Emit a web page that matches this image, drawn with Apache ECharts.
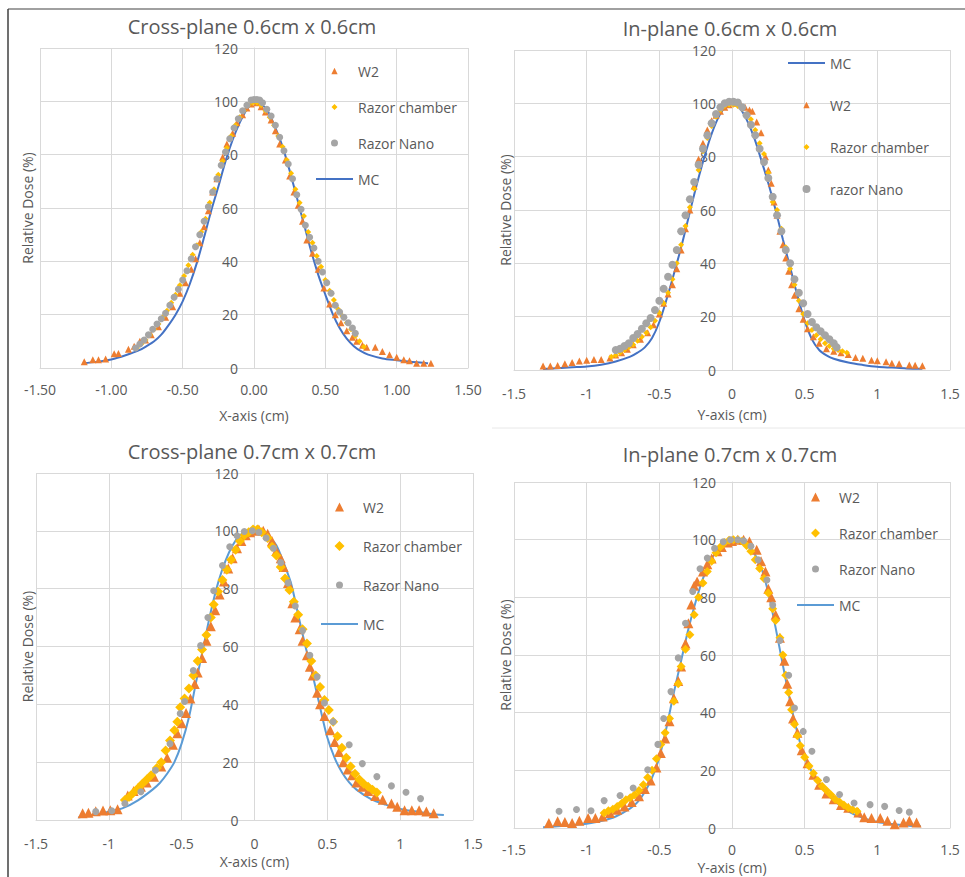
<!DOCTYPE html>
<html><head><meta charset="utf-8">
<script src="https://cdn.jsdelivr.net/npm/echarts@6/dist/echarts.min.js"></script>
<style>html,body{margin:0;padding:0;background:#fff;}#c{width:965px;height:877px;}</style>
</head><body><div id="c"></div>
<script>
// ---------- DATA (x in cm, relative dose in %) ----------
// Panel 1: Cross-plane 0.6cm x 0.6cm
const p1_mc = [[-1.2,1.8],[-1.1,2.3],[-1.0,3.2],[-0.9,4.8],[-0.8,6.8],[-0.75,8.3],[-0.7,10],[-0.65,12.5],[-0.6,16],[-0.55,20],[-0.5,25],[-0.45,31.5],[-0.4,39.5],[-0.35,49],[-0.3,59],[-0.25,68],[-0.2,77.5],[-0.15,85.5],[-0.1,92],[-0.05,97],[0,99.5],[0.05,99],[0.1,96],[0.15,90],[0.2,83],[0.25,74],[0.3,64],[0.35,54],[0.4,44],[0.45,35],[0.5,27.5],[0.55,20.5],[0.6,15],[0.65,11],[0.7,8.2],[0.75,6.3],[0.8,5],[0.9,3.6],[1.0,2.9],[1.1,2.3],[1.2,1.9],[1.22,1.8]];
const p1_w2 = [[-1.19,2.3],[-1.13,3.1],[-1.09,3.1],[-1.04,3.4],[-0.98,5.3],[-0.95,5.4],[-0.88,7],[-0.84,8.2],[-0.8,10],[-0.76,10.5],[-0.72,12.5],[-0.67,15.5],[-0.62,19],[-0.57,23],[-0.52,28],[-0.48,32],[-0.44,37],[-0.41,41],[-0.38,47],[-0.35,53],[-0.32,59],[-0.29,66],[-0.26,71],[-0.22,79],[-0.19,84],[-0.15,88],[-0.12,92],[-0.08,95],[-0.05,97.5],[-0.02,99],[0.02,99.5],[0.05,98],[0.08,96],[0.12,93],[0.15,89],[0.18,84],[0.22,78],[0.25,72],[0.28,66],[0.31,61],[0.34,55],[0.37,48],[0.41,43],[0.45,37],[0.49,30],[0.53,24],[0.57,20],[0.61,17],[0.65,14],[0.69,11.5],[0.72,10],[0.76,8.5],[0.79,7.8],[0.85,7.8],[0.9,6.2],[0.95,5],[1.0,4],[1.05,3.1],[1.09,2.7],[1.14,1.8],[1.19,1.8],[1.24,1.8]];
const p1_chamber = [[-0.82,7.5],[-0.79,9],[-0.76,10.5],[-0.73,12.5],[-0.7,14.5],[-0.67,16.5],[-0.64,19],[-0.61,21.5],[-0.58,24.5],[-0.55,27.5],[-0.52,31],[-0.49,34.5],[-0.46,38.5],[-0.43,42.5],[-0.4,46],[-0.37,51],[-0.34,56],[-0.31,62],[-0.28,67],[-0.25,72.5],[-0.22,77.5],[-0.19,82.5],[-0.16,87],[-0.13,91],[-0.1,94],[-0.07,96.5],[-0.04,98.5],[-0.01,99.5],[0.02,99.5],[0.05,98.5],[0.08,96.5],[0.11,94],[0.14,91],[0.17,87],[0.2,83],[0.23,78],[0.26,73],[0.29,67],[0.32,62],[0.35,57],[0.38,51],[0.41,47],[0.44,42],[0.47,38],[0.5,33],[0.53,29],[0.56,25.5],[0.59,22],[0.62,19.5],[0.65,17],[0.68,14.5],[0.71,12],[0.74,10],[0.77,8]];
const p1_nano = [[-0.83,7.5],[-0.8,9],[-0.77,10.5],[-0.74,12.5],[-0.71,14.5],[-0.68,16.5],[-0.65,18.5],[-0.62,20.5],[-0.59,23.5],[-0.56,26.5],[-0.53,29.5],[-0.5,33],[-0.47,36.5],[-0.44,41],[-0.41,45.5],[-0.38,50],[-0.35,55],[-0.32,60.5],[-0.29,66],[-0.26,71],[-0.23,76],[-0.2,81],[-0.17,86],[-0.14,90],[-0.11,93.5],[-0.08,96.5],[-0.05,98.5],[-0.02,100.5],[0.0,100.7],[0.02,100.7],[0.04,100.5],[0.06,99.5],[0.09,97],[0.12,94.5],[0.15,91],[0.18,86.5],[0.21,81.5],[0.24,76.5],[0.27,71],[0.3,65],[0.33,59.5],[0.36,53.5],[0.39,49],[0.42,45],[0.45,40],[0.48,36],[0.51,32],[0.54,28],[0.57,23.5],[0.6,21],[0.63,19],[0.66,17],[0.69,15],[0.71,13]];

// Panel 2: In-plane 0.6cm x 0.6cm
const p2_mc = [[-1.3,0.4],[-1.2,0.7],[-1.1,1.0],[-1.0,1.3],[-0.9,2.0],[-0.8,3.2],[-0.7,5.0],[-0.65,6.5],[-0.6,8.5],[-0.55,12],[-0.5,18],[-0.45,26.5],[-0.4,36],[-0.35,46],[-0.3,57],[-0.25,68],[-0.2,78],[-0.15,87],[-0.1,94],[-0.05,98.5],[0,100],[0.05,98.5],[0.1,94],[0.15,87.5],[0.2,79],[0.25,70],[0.3,60],[0.35,49],[0.4,38.5],[0.45,28],[0.5,18.5],[0.55,11.5],[0.6,7.5],[0.65,5.5],[0.7,4.2],[0.8,2.8],[0.9,1.9],[1.0,1.2],[1.1,0.9],[1.2,0.6],[1.31,0.5]];
const p2_w2 = [[-1.3,1.5],[-1.25,1.5],[-1.2,1.7],[-1.15,2.3],[-1.1,2.8],[-1.05,3.4],[-1.0,3.7],[-0.95,3.9],[-0.9,3.9],[-0.84,4.5],[-0.8,5.6],[-0.76,6.5],[-0.72,7.8],[-0.68,9.5],[-0.63,11.5],[-0.58,14],[-0.54,17],[-0.5,21],[-0.47,25],[-0.44,28.5],[-0.41,32],[-0.38,38],[-0.35,45],[-0.32,53],[-0.29,60],[-0.26,69],[-0.23,79],[-0.2,85],[-0.17,90],[-0.14,93.5],[-0.11,95.5],[-0.08,97],[-0.05,98.5],[-0.02,99.5],[0.03,100],[0.06,99.5],[0.09,98.5],[0.12,97.5],[0.14,97],[0.17,93],[0.2,89],[0.23,80],[0.25,75],[0.27,70],[0.29,63],[0.31,58],[0.33,52],[0.35,47],[0.37,42],[0.39,37],[0.41,32],[0.43,28],[0.46,23],[0.49,19],[0.52,15.5],[0.56,12.5],[0.6,10],[0.65,8],[0.7,7],[0.75,6.5],[0.8,5.8],[0.85,4.7],[0.9,4.4],[0.96,3.7],[1.0,3.5],[1.06,3.1],[1.1,2.5],[1.15,2.3],[1.22,1.9],[1.26,1.8],[1.31,1.6]];
const p2_chamber = [[-0.83,5],[-0.8,5.5],[-0.77,6.5],[-0.74,7.5],[-0.71,8.5],[-0.68,9.5],[-0.65,11],[-0.62,12.5],[-0.59,14],[-0.56,16],[-0.53,18.5],[-0.5,21.5],[-0.47,25],[-0.44,29],[-0.41,34],[-0.38,40],[-0.35,47],[-0.32,54],[-0.29,61],[-0.26,68],[-0.23,75],[-0.2,82],[-0.17,87],[-0.14,91.5],[-0.11,95],[-0.08,97.5],[-0.05,99],[-0.02,99.5],[0.01,99.5],[0.04,99],[0.07,98],[0.1,96],[0.13,94],[0.16,90],[0.19,85],[0.22,81],[0.25,74],[0.28,63],[0.31,60],[0.34,53],[0.37,46],[0.4,38],[0.43,32],[0.46,26],[0.49,21],[0.52,17.5],[0.55,15],[0.58,13],[0.61,11.5],[0.64,10],[0.67,9],[0.7,8],[0.73,7.5],[0.76,7],[0.79,6.5]];
const p2_nano = [[-0.8,7.5],[-0.77,8],[-0.74,9],[-0.71,10],[-0.68,12],[-0.65,13.5],[-0.62,15.5],[-0.59,17.5],[-0.56,19.5],[-0.53,22.5],[-0.5,26],[-0.47,30.5],[-0.44,35],[-0.41,39.5],[-0.38,45],[-0.35,52],[-0.32,58],[-0.29,64],[-0.26,70.5],[-0.23,77],[-0.2,83],[-0.17,88],[-0.14,92.5],[-0.11,96],[-0.08,98.5],[-0.05,100],[-0.02,100.6],[0.01,100.6],[0.04,100.3],[0.07,98.5],[0.1,95.5],[0.13,92],[0.16,88],[0.19,83],[0.22,78],[0.25,72],[0.28,65],[0.31,58],[0.34,52],[0.37,45],[0.4,40],[0.43,34],[0.46,29],[0.49,25],[0.52,21],[0.55,18],[0.58,16],[0.61,14.5],[0.64,13],[0.67,11.5],[0.7,10],[0.72,8.5]];

// Panel 3: Cross-plane 0.7cm x 0.7cm
const p3_mc = [[-1.21,0.9],[-1.1,1.8],[-1.0,2.9],[-0.9,4.2],[-0.8,6.8],[-0.7,10.5],[-0.65,12.8],[-0.6,16],[-0.55,20],[-0.5,26.5],[-0.45,35.5],[-0.4,48],[-0.35,60],[-0.3,72],[-0.25,82],[-0.2,89.5],[-0.15,95],[-0.1,98.5],[-0.05,99.8],[0,100],[0.05,99.6],[0.1,98],[0.15,95],[0.2,89],[0.25,82],[0.3,71],[0.35,60],[0.4,50],[0.45,39],[0.5,28.5],[0.55,21.5],[0.6,16.5],[0.65,13],[0.7,10.5],[0.8,7.2],[0.9,5.3],[1.0,3.8],[1.1,3],[1.2,2.2],[1.3,1.7]];
const p3_w2 = [[-1.18,2.3],[-1.14,2.5],[-1.09,3],[-1.04,3.3],[-0.99,3.4],[-0.94,3.7],[-0.87,8.5],[-0.83,10],[-0.78,11.5],[-0.74,13],[-0.69,15],[-0.64,18.5],[-0.6,21.5],[-0.56,26],[-0.53,30],[-0.5,33.5],[-0.47,37],[-0.44,42],[-0.41,47],[-0.39,51],[-0.36,56],[-0.33,62],[-0.3,67],[-0.27,72.5],[-0.24,78],[-0.21,82.5],[-0.18,87],[-0.15,90.5],[-0.12,94],[-0.09,96.5],[-0.06,98.5],[-0.03,99.5],[0.0,100],[0.03,100.5],[0.06,100],[0.09,99],[0.12,96.5],[0.15,93],[0.18,90.5],[0.2,87.5],[0.23,82],[0.26,75],[0.28,70],[0.31,66],[0.33,62],[0.36,57],[0.38,53],[0.4,50],[0.43,44],[0.45,40],[0.48,36],[0.52,31],[0.55,27],[0.58,23.5],[0.61,20],[0.64,17.5],[0.67,15.5],[0.7,13],[0.74,11.5],[0.78,10],[0.83,8.3],[0.88,7],[0.94,5.7],[0.98,4.6],[1.03,3.4],[1.08,3.4],[1.13,3.4],[1.18,2.9],[1.23,2.3]];
const p3_chamber = [[-0.89,6.9],[-0.86,8],[-0.83,9.5],[-0.8,11],[-0.77,12.5],[-0.74,14],[-0.71,15.5],[-0.67,18],[-0.64,20],[-0.61,24],[-0.58,27.5],[-0.55,31],[-0.53,34],[-0.51,39],[-0.48,42],[-0.45,45.5],[-0.42,50],[-0.39,55],[-0.36,59],[-0.33,64],[-0.3,70],[-0.28,74.5],[-0.25,79],[-0.22,83],[-0.19,86.5],[-0.16,90],[-0.13,93.5],[-0.1,96.5],[-0.07,98.5],[-0.04,99.5],[-0.01,100.5],[0.02,100.5],[0.05,99.5],[0.09,97.5],[0.12,94.5],[0.15,91.5],[0.18,87.5],[0.21,83.5],[0.24,79.5],[0.27,75.5],[0.3,71],[0.33,66],[0.36,61],[0.39,55],[0.42,50],[0.45,46],[0.48,41.5],[0.51,38],[0.54,34],[0.57,29],[0.6,25],[0.63,21.5],[0.66,18.5],[0.69,16],[0.72,14],[0.75,12.5],[0.78,11.5],[0.81,10.5],[0.84,9.5]];
const p3_nano = [[-1.09,2.9],[-0.98,3.2],[-0.89,5.7],[-0.78,9.8],[-0.68,17.2],[-0.58,26.4],[-0.51,36.8],[-0.48,41],[-0.42,51.7],[-0.37,60.3],[-0.32,70],[-0.28,79.3],[-0.22,88],[-0.17,94.5],[-0.12,98.3],[-0.07,99.8],[-0.015,100],[0.03,99.5],[0.08,97.5],[0.13,94],[0.18,89],[0.23,82],[0.28,74],[0.33,65.5],[0.38,57],[0.43,49.5],[0.48,40.5],[0.54,34],[0.65,26],[0.74,19.5],[0.84,15],[0.94,11.8],[1.04,9.6],[1.14,7.4]];

// Panel 4: In-plane 0.7cm x 0.7cm
const p4_mc = [[-1.3,0.3],[-1.2,0.6],[-1.1,1],[-1.0,1.5],[-0.9,2.4],[-0.8,4],[-0.7,6.8],[-0.65,9],[-0.6,12.5],[-0.55,17.5],[-0.5,24.5],[-0.45,35],[-0.4,47],[-0.35,58],[-0.3,69],[-0.25,78.5],[-0.2,86.5],[-0.15,92.5],[-0.1,96.5],[-0.05,99],[0,100],[0.05,99.6],[0.1,98.3],[0.15,95.5],[0.2,90.5],[0.25,81.5],[0.3,69.5],[0.35,56.5],[0.4,44],[0.45,33],[0.5,24.5],[0.55,19.5],[0.6,15.5],[0.65,12.2],[0.7,9.5],[0.8,5.8],[0.9,3.5],[1.0,2.1],[1.1,1.4],[1.2,0.9],[1.3,0.6]];
const p4_w2 = [[-1.26,1.7],[-1.2,2.3],[-1.15,2.1],[-1.1,1.7],[-1.05,2.5],[-0.99,3.5],[-0.94,3.5],[-0.89,4],[-0.84,5.2],[-0.79,6.3],[-0.74,7.5],[-0.69,9],[-0.64,11],[-0.6,13.5],[-0.56,16.5],[-0.52,21],[-0.49,26],[-0.46,31],[-0.43,37],[-0.4,45],[-0.37,51],[-0.35,56],[-0.32,64],[-0.3,71],[-0.28,77.5],[-0.26,84],[-0.24,85.5],[-0.2,89],[-0.17,91.5],[-0.14,93.5],[-0.1,96],[-0.07,97.5],[-0.03,99],[0.0,99.5],[0.04,100],[0.08,100],[0.12,99.4],[0.17,96.5],[0.2,92.5],[0.23,89],[0.25,83],[0.27,80],[0.3,74],[0.33,66],[0.36,58],[0.38,50],[0.4,44],[0.42,38],[0.45,33],[0.48,27],[0.52,22.5],[0.56,18.5],[0.6,15],[0.65,12],[0.7,10],[0.75,8],[0.8,7],[0.87,5.4],[0.91,3.7],[0.96,3.5],[1.02,3.5],[1.07,2.5],[1.12,1.3],[1.18,1.9],[1.22,2.5],[1.27,1.9]];
const p4_chamber = [[-0.88,5.2],[-0.85,6],[-0.82,6.5],[-0.79,7.5],[-0.76,8.5],[-0.73,9.8],[-0.7,10.5],[-0.67,11.5],[-0.64,13],[-0.61,15],[-0.58,17.5],[-0.55,20],[-0.52,24],[-0.49,29],[-0.46,33],[-0.43,38],[-0.4,44],[-0.37,50],[-0.35,56],[-0.32,62],[-0.29,67],[-0.26,74],[-0.23,80],[-0.2,85],[-0.17,89],[-0.14,92.5],[-0.11,95.5],[-0.08,97.5],[-0.05,99],[-0.02,99.8],[0.01,100],[0.04,100],[0.07,99.5],[0.1,98],[0.13,96],[0.16,93],[0.19,90],[0.22,86.5],[0.25,81.5],[0.28,76],[0.3,72],[0.33,66],[0.35,60],[0.37,53],[0.39,47],[0.41,41],[0.43,36],[0.45,32],[0.47,28.5],[0.5,24.5],[0.53,21.5],[0.56,19],[0.59,16.5],[0.62,14.5],[0.65,13],[0.68,11.5],[0.71,10],[0.74,9],[0.77,8],[0.8,7],[0.83,6.3],[0.86,5.8]];
const p4_nano = [[-1.19,5.8],[-1.07,6.4],[-0.97,6],[-0.88,9.5],[-0.77,11.3],[-0.68,13.9],[-0.58,20.2],[-0.51,29],[-0.47,38],[-0.42,47.3],[-0.37,59],[-0.32,71],[-0.27,82],[-0.22,89.9],[-0.17,93.6],[-0.12,97],[-0.06,99.3],[-0.01,100],[0.04,100],[0.08,99.6],[0.13,97.7],[0.18,93],[0.24,86],[0.28,77.3],[0.33,65],[0.39,53],[0.43,41.6],[0.49,33.5],[0.55,26.6],[0.65,16.8],[0.74,11.6],[0.84,8.7],[0.95,8.1],[1.05,7.5],[1.15,6.1],[1.22,5.5]];

const titles = ['Cross-plane 0.6cm x 0.6cm','In-plane 0.6cm x 0.6cm','Cross-plane 0.7cm x 0.7cm','In-plane 0.7cm x 0.7cm'];
const xNames = ['X-axis (cm)','Y-axis (cm)','X-axis (cm)','Y-axis (cm)'];
const yName = 'Relative Dose (%)';
const legendNames = [
  ['W2','Razor chamber','Razor Nano','MC'],
  ['MC','W2','Razor chamber','razor Nano'],
  ['W2','Razor chamber','Razor Nano','MC'],
  ['W2','Razor chamber','Razor Nano','MC']
];
const xMin = -1.5, xMax = 1.5, xStep = 0.5, yMin = 0, yMax = 120, yStep = 20;

// ---------- LAYOUT / STYLE ----------
const FONT = '"Open Sans", sans-serif';
const TXT = '#595959';
const GRIDC = '#d9d9d9';
const C_W2 = '#ED7D31', C_CH = '#FFC000', C_NANO = '#A5A5A5';
const layout = [
  {grid:{left:40,top:48,width:428,height:320}, t:[252,26], nameX:27, xMargin:14, nameGap:40, dec:2, mc:'#4472C4', sz:[7,6,7], lg:{left:316,top:64,gap:22}},
  {grid:{left:514,top:50,width:436,height:320}, t:[730,28], nameX:505, xMargin:16, nameGap:37, dec:0, mc:'#4472C4', sz:[7,6,8], lg:{left:788,top:56,gap:28}},
  {grid:{left:36,top:473,width:437,height:347}, t:[252,451], nameX:27, xMargin:16, nameGap:34, dec:0, mc:'#5B9BD5', sz:[10,10,7], lg:{left:321,top:500,gap:25}},
  {grid:{left:514,top:482,width:436,height:346}, t:[730,454], nameX:505, xMargin:14, nameGap:32, dec:0, mc:'#5B9BD5', sz:[10,9,7], lg:{left:797,top:490,gap:22}}
];
const panelData = [
  {mc:p1_mc, w2:p1_w2, ch:p1_chamber, nano:p1_nano},
  {mc:p2_mc, w2:p2_w2, ch:p2_chamber, nano:p2_nano},
  {mc:p3_mc, w2:p3_w2, ch:p3_chamber, nano:p3_nano},
  {mc:p4_mc, w2:p4_w2, ch:p4_chamber, nano:p4_nano}
];

// legend icons: drawn inside a 37 x 10 box (corner anchors keep the box size)
const IW = 37, IH = 10, CX = IW/2, CY = IH/2;
const anchors = `M0 0L0 0.001M${IW} ${IH}L${IW} ${IH-0.001}`;
const iconTri = s => `path://${anchors}M${CX} ${CY-s/2}L${CX+s/2} ${CY+s/2}L${CX-s/2} ${CY+s/2}Z`;
const iconDia = s => `path://${anchors}M${CX} ${CY-s/2}L${CX+s/2} ${CY}L${CX} ${CY+s/2}L${CX-s/2} ${CY}Z`;
const iconCir = s => { const r=s/2; return `path://${anchors}M${CX-r} ${CY}A${r} ${r} 0 1 0 ${CX+r} ${CY}A${r} ${r} 0 1 0 ${CX-r} ${CY}Z`; };
const iconLine = w => `path://${anchors}M0 ${CY-w/2}L${IW} ${CY-w/2}L${IW} ${CY+w/2}L0 ${CY+w/2}Z`;

const chart = echarts.init(document.getElementById('c'), null, {renderer:'svg'});
const grids=[], xAxes=[], yAxes=[], series=[], legends=[], graphics=[];
const txtStyle = {color:TXT, fontFamily:FONT, fontSize:14};

layout.forEach((L,i)=>{
  const names = legendNames[i];
  const find = k => names.find(n => n.toLowerCase().includes(k));
  const nm = k => find(k) + '#' + i;
  grids.push(Object.assign({containLabel:false, outerBoundsMode:'none'}, L.grid));
  xAxes.push({gridIndex:i, type:'value', min:xMin, max:xMax, interval:xStep,
    axisLine:{show:true, onZero:false, lineStyle:{color:GRIDC}}, axisTick:{show:false},
    splitLine:{show:true, lineStyle:{color:GRIDC, width:1}},
    axisLabel:Object.assign({margin:L.xMargin, formatter: v => L.dec ? v.toFixed(L.dec) : String(v)}, txtStyle),
    name:xNames[i], nameLocation:'middle', nameGap:L.nameGap, nameTextStyle:txtStyle});
  // y axis drawn at x = 0 (middle of the symmetric x range)
  const axisShift = L.grid.width * (0 - xMin) / (xMax - xMin);
  yAxes.push({gridIndex:i, type:'value', min:yMin, max:yMax, interval:yStep, position:'left',
    offset: -axisShift,
    axisLine:{show:true, onZero:false, lineStyle:{color:GRIDC}}, axisTick:{show:false},
    splitLine:{show:true, lineStyle:{color:GRIDC, width:1}},
    axisLabel:Object.assign({margin:16}, txtStyle),
    name:yName, nameLocation:'middle', nameGap:L.grid.left + axisShift - L.nameX - 7, nameRotate:90, nameTextStyle:txtStyle});
  const D = panelData[i];
  series.push({type:'line', name:nm('mc'), xAxisIndex:i, yAxisIndex:i, data:D.mc, smooth:0.3,
    symbol:'none', showSymbol:false, lineStyle:{color:L.mc, width:2}, itemStyle:{color:L.mc}, z:2});
  series.push({type:'scatter', name:nm('w2'), xAxisIndex:i, yAxisIndex:i, data:D.w2, symbol:'triangle', symbolSize:L.sz[0], itemStyle:{color:C_W2, opacity:1}, z:3});
  series.push({type:'scatter', name:nm('chamber'), xAxisIndex:i, yAxisIndex:i, data:D.ch, symbol:'diamond', symbolSize:L.sz[1], itemStyle:{color:C_CH, opacity:1}, z:4});
  series.push({type:'scatter', name:nm('nano'), xAxisIndex:i, yAxisIndex:i, data:D.nano, symbol:'circle', symbolSize:L.sz[2], itemStyle:{color:C_NANO, opacity:1}, z:5});
  const iconFor = n => {
    const k = n.toLowerCase();
    if (k === 'mc') return {icon:iconLine(2.2), color:L.mc};
    if (k === 'w2') return {icon:iconTri(L.sz[0]*0.9), color:C_W2};
    if (k.includes('chamber')) return {icon:iconDia(L.sz[1]), color:C_CH};
    return {icon:iconCir(L.sz[2]), color:C_NANO};
  };
  legends.push({orient:'vertical', left:L.lg.left, top:L.lg.top, padding:0, itemWidth:IW, itemHeight:IH,
    itemGap:L.lg.gap, selectedMode:false, symbolKeepAspect:true,
    data:names.map(n=>{ const f=iconFor(n); return {name:n+'#'+i, icon:f.icon, itemStyle:{color:f.color, borderWidth:0, opacity:1}}; }),
    formatter: n => n.split('#')[0], textStyle:txtStyle});
  graphics.push({type:'text', x:L.t[0], y:L.t[1], silent:true,
    style:{text:titles[i], fill:TXT, font:'20px "Open Sans", sans-serif', align:'center', verticalAlign:'middle'}});
});
// figure frame lines
graphics.push({type:'line', silent:true, shape:{x1:8,y1:9,x2:965,y2:9}, style:{stroke:'#808080', lineWidth:1.5}});
graphics.push({type:'line', silent:true, shape:{x1:8,y1:9,x2:8,y2:877}, style:{stroke:'#404040', lineWidth:1.5}});
graphics.push({type:'line', silent:true, shape:{x1:492,y1:428,x2:965,y2:428}, style:{stroke:'#e8e8e8', lineWidth:1}});

chart.setOption({animation:false, backgroundColor:'#fff', grid:grids, xAxis:xAxes, yAxis:yAxes,
  series, legend:legends, graphic:graphics});
</script></body></html>
